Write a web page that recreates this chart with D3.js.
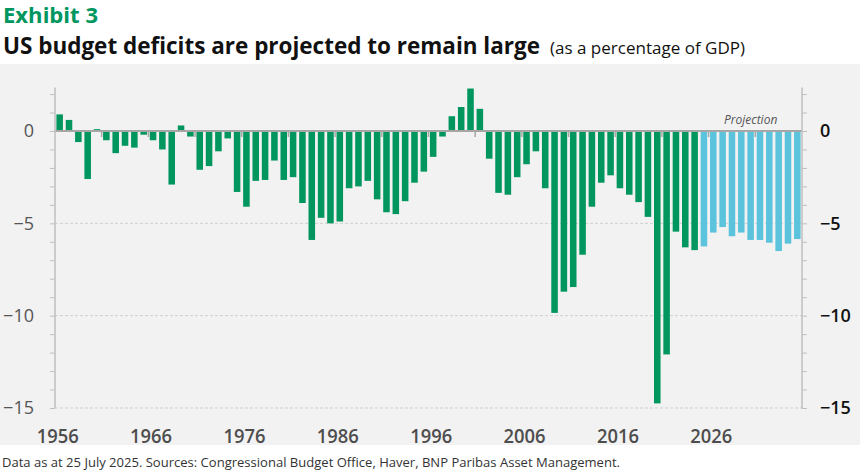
<!DOCTYPE html>
<html>
<head>
<meta charset="utf-8">
<script src="https://cdn.jsdelivr.net/npm/d3@7"></script>
<style>
  body { margin: 0; background: #fff; }
  svg { display: block; }
</style>
</head>
<body>
<svg id="chart"></svg>
<script>
// US federal budget balance, % of GDP (CBO), 2025 onward is projection
const years = d3.range(1956, 2036);
const values = [
  0.9, 0.6, -0.6, -2.6, 0.1, -0.5, -1.2, -0.8, -0.9, -0.2,
  -0.5, -1.0, -2.9, 0.3, -0.3, -2.1, -1.9, -1.1, -0.4, -3.3,
  -4.1, -2.7, -2.65, -1.6, -2.65, -2.5, -3.9, -5.9, -4.7, -5.0,
  -4.9, -3.1, -3.0, -2.7, -3.7, -4.4, -4.5, -3.8, -2.8, -2.2,
  -1.4, -0.3, 0.8, 1.3, 2.3, 1.2, -1.5, -3.35, -3.45, -2.5,
  -1.8, -1.1, -3.1, -9.85, -8.7, -8.45, -6.7, -4.1, -2.8, -2.4,
  -3.1, -3.45, -3.85, -4.65, -14.75, -12.1, -5.45, -6.3, -6.45, -6.25,
  -5.5, -5.2, -5.7, -5.5, -5.9, -5.9, -6.05, -6.5, -6.1, -5.85
];
const firstProjection = 2025;
const yearLabels = [1956, 1966, 1976, 1986, 1996, 2006, 2016, 2026];
const yLabels = [0, -5, -10, -15];

const W = 860, H = 472;
const svg = d3.select('#chart').attr('width', W).attr('height', H);

const green = '#00965e';
const blue = '#5cc3dd';
const font = "'Open Sans', 'Noto Sans', sans-serif";

// titles
svg.append('text')
  .attr('x', 3).attr('y', 23)
  .attr('font-family', font).attr('font-weight', 700)
  .attr('font-size', 21).attr('fill', green)
  .attr('textLength', 95).attr('lengthAdjust', 'spacingAndGlyphs')
  .text('Exhibit 3');

svg.append('text')
  .attr('x', 3).attr('y', 54)
  .attr('font-family', font).attr('fill', '#111')
  .attr('font-weight', 700).attr('font-size', 23)
  .attr('textLength', 537).attr('lengthAdjust', 'spacingAndGlyphs')
  .text('US budget deficits are projected to remain large');

svg.append('text')
  .attr('x', 550).attr('y', 54)
  .attr('font-family', font).attr('fill', '#111')
  .attr('font-size', 16.5)
  .attr('textLength', 195).attr('lengthAdjust', 'spacingAndGlyphs')
  .text('(as a percentage of GDP)');

// panel
svg.append('rect')
  .attr('x', 0).attr('y', 64).attr('width', W).attr('height', 381)
  .attr('fill', '#f2f2f2');

// footer
svg.append('text')
  .attr('x', 2).attr('y', 467)
  .attr('font-family', font).attr('font-size', 12).attr('fill', '#333')
  .attr('textLength', 618).attr('lengthAdjust', 'spacingAndGlyphs')
  .text('Data as at 25 July 2025. Sources: Congressional Budget Office, Haver, BNP Paribas Asset Management.');

const x = d3.scaleBand()
  .domain(years)
  .range([55, 802])
  .paddingInner(0.3)
  .paddingOuter(0.15);

const y = d3.scaleLinear()
  .domain([-15, 0])
  .range([408, 131]);

// gridlines
svg.append('g')
  .selectAll('line')
  .data([-5, -10, -15])
  .join('line')
  .attr('x1', 55).attr('x2', 802)
  .attr('y1', d => y(d)).attr('y2', d => y(d))
  .attr('stroke', '#cfcfcf')
  .attr('stroke-width', 1)
  .attr('stroke-dasharray', '3,2');

// bars
svg.append('g')
  .selectAll('rect')
  .data(years.map((yr, i) => ({ yr, v: values[i] })))
  .join('rect')
  .attr('x', d => x(d.yr))
  .attr('width', x.bandwidth())
  .attr('y', d => y(Math.max(0, d.v)))
  .attr('height', d => Math.abs(y(d.v) - y(0)))
  .attr('fill', d => d.yr >= firstProjection ? blue : green);

// zero line
svg.append('line')
  .attr('x1', 55).attr('x2', 802)
  .attr('y1', y(0)).attr('y2', y(0))
  .attr('stroke', '#a6a6a6').attr('stroke-width', 2);

// x ticks every 5 years at band edges
const step = x.step();
svg.append('g')
  .selectAll('line')
  .data(years.filter(yr => (yr - 1956) % 5 === 0 && yr > 1956))
  .join('line')
  .attr('x1', d => x(d) - step * x.paddingInner() / 2)
  .attr('x2', d => x(d) - step * x.paddingInner() / 2)
  .attr('y1', y(0)).attr('y2', y(0) + 6)
  .attr('stroke', '#a6a6a6').attr('stroke-width', 1.5);

// y axes
const tickVals = d3.range(-15, 3);
const fmt = d => yLabels.includes(d) ? d3.format('d')(d) : '';

const left = svg.append('g')
  .attr('transform', 'translate(55,0)')
  .call(d3.axisLeft(y).tickValues(tickVals).tickFormat(fmt).tickSize(5).tickPadding(16));
left.select('.domain').attr('d', `M0,${y(2.35)}V${y(-15)}`);

const right = svg.append('g')
  .attr('transform', 'translate(802,0)')
  .call(d3.axisRight(y).tickValues(tickVals).tickFormat(fmt).tickSize(5).tickPadding(13));
right.select('.domain').attr('d', `M0,${y(2.35)}V${y(-15)}`);

[left, right].forEach(g => {
  g.selectAll('.domain').attr('stroke', '#bfbfbf').attr('stroke-width', 1.5);
  g.selectAll('.tick line').attr('stroke', '#bfbfbf');
  g.selectAll('.tick text').attr('font-family', font).attr('font-size', 18);
});
left.selectAll('.tick text').attr('fill', '#555');
right.selectAll('.tick text').attr('fill', '#111').attr('font-weight', 600);

// year labels
svg.append('g')
  .selectAll('text')
  .data(yearLabels)
  .join('text')
  .attr('x', d => x(d) + x.bandwidth() / 2 - 2)
  .attr('y', 443)
  .attr('text-anchor', 'middle')
  .attr('font-family', font).attr('font-size', 19).attr('font-weight', 600)
  .attr('fill', '#4d4d4d')
  .attr('textLength', 42).attr('lengthAdjust', 'spacingAndGlyphs')
  .text(d => d);

// projection label
svg.append('text')
  .attr('x', x(2030) + x.bandwidth() / 2)
  .attr('y', 124)
  .attr('text-anchor', 'middle')
  .attr('font-family', font).attr('font-style', 'italic')
  .attr('font-size', 12).attr('fill', '#555')
  .text('Projection');
</script>
</body>
</html>
